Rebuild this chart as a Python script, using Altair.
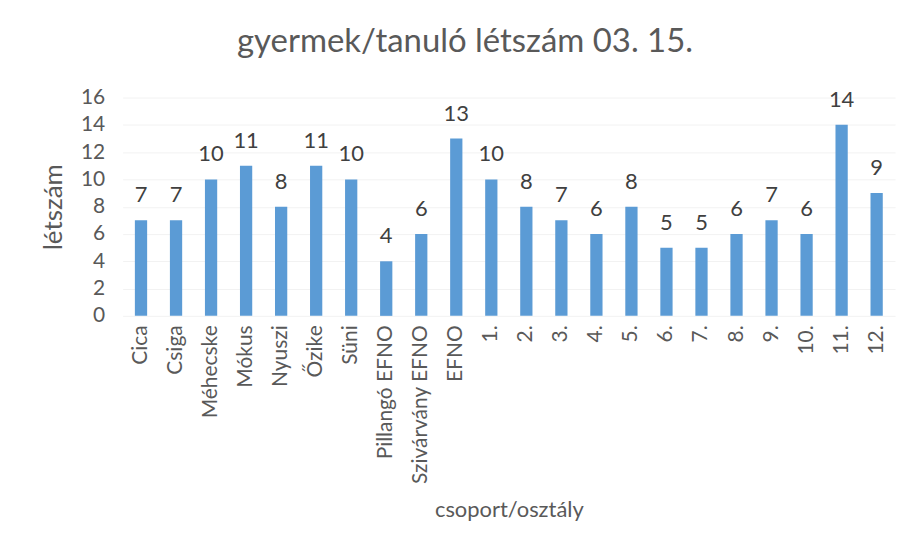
import altair as alt
import pandas as pd

categories = ["Cica", "Csiga", "Méhecske", "Mókus", "Nyuszi", "Őzike", "Süni",
              "Pillangó EFNO", "Szivárvány EFNO", "EFNO", "1.", "2.", "3.", "4.",
              "5.", "6.", "7.", "8.", "9.", "10.", "11.", "12."]
values = [7, 7, 10, 11, 8, 11, 10, 4, 6, 13, 10, 8, 7, 6, 8, 5, 5, 6, 7, 6, 14, 9]

df = pd.DataFrame({"cat": categories, "val": values})
FONT = "Lato"

base = alt.Chart(df).encode(
    x=alt.X("cat:N", sort=categories, title="csoport/osztály",
            scale=alt.Scale(paddingInner=0.65, paddingOuter=0.35),
            axis=alt.Axis(labelAngle=-90, labelFontSize=21, labelColor="#595959",
                          labelFont=FONT, titleFont=FONT, titleFontSize=22,
                          titleFontWeight="normal", titleColor="#595959",
                          labelPadding=9, titlePadding=16, domain=False, ticks=False,
                          grid=False, labelLimit=300)),
    y=alt.Y("val:Q", title="létszám",
            scale=alt.Scale(domain=[0, 16]),
            axis=alt.Axis(values=list(range(0, 17, 2)), labelFontSize=21,
                          labelColor="#595959", labelFont=FONT, titleFont=FONT,
                          titleFontSize=26, titleFontWeight="normal",
                          titleColor="#595959", labelPadding=18, titlePadding=14,
                          domain=False, ticks=False, gridColor="#f2f2f2")),
)

bars = base.mark_bar(color="#5B9BD5")
labels = base.mark_text(baseline="bottom", dy=-13, fontSize=22, font=FONT,
                        color="#404040").encode(text="val:Q")

chart = (bars + labels).properties(
    width=775, height=219,
    autosize=alt.AutoSizeParams(type="none"),
    padding={"left": 115, "top": 89, "right": 10, "bottom": 220},
    title=alt.TitleParams("gyermek/tanuló létszám 03. 15.", fontSize=33,
                          font=FONT, fontWeight="normal", color="#595959",
                          offset=28, anchor="middle", dx=-44),
).configure_view(stroke=None)

chart.save("out.html", embed_options={"renderer": "svg", "actions": False})
